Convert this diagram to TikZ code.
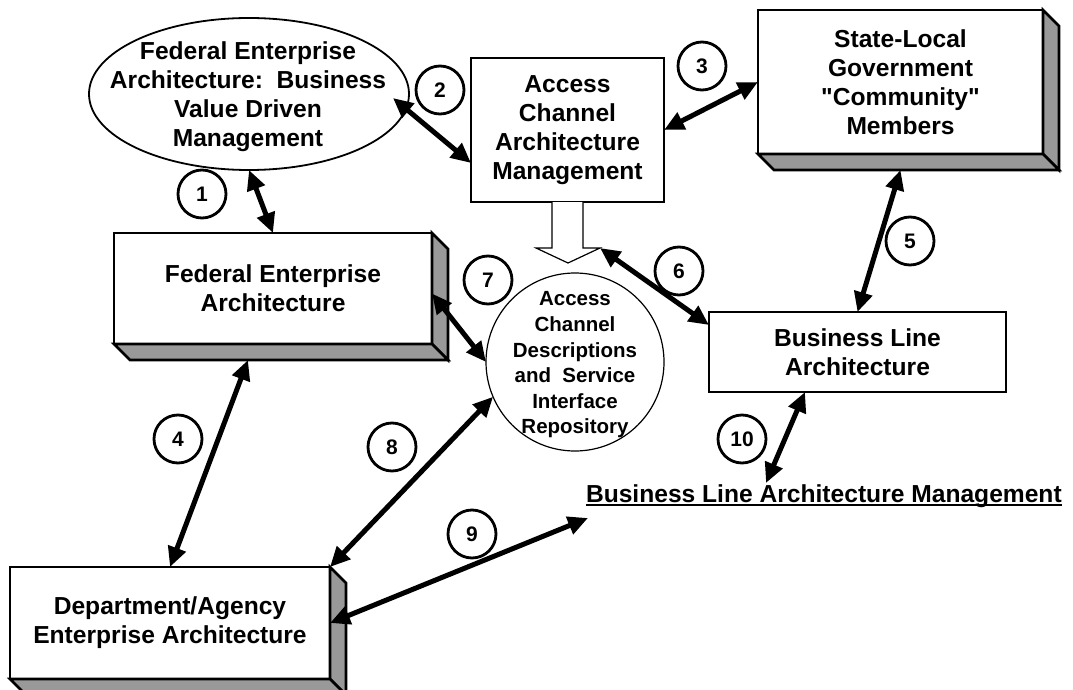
\documentclass[tikz,border=0pt]{standalone}
\usepackage{fontspec}
\setmainfont{Liberation Sans}[Ligatures=TeXOff]
\usetikzlibrary{positioning, shapes.geometric, arrows.meta, calc}

\begin{document}
\begin{tikzpicture}[
  x=1pt, y=-1pt,
  >={Triangle[length=20pt, width=18pt]},
  every node/.style={font=\fontsize{24.6}{29}\selectfont\bfseries, align=center, outer sep=0pt},
  slab/.style={draw, line width=2.6pt, fill=white, inner sep=0pt},
  slabside/.style={fill=black!40, draw, line width=2.6pt},
  oval/.style={draw, ellipse, line width=1.8pt, minimum width=320pt, minimum height=152pt, inner sep=0pt},
  store/.style={draw, circle, line width=1.2pt, minimum size=178pt, inner sep=0pt},
  num/.style={draw, circle, line width=2.8pt, minimum size=48pt, inner sep=0pt, font=\fontsize{21}{25}\selectfont\bfseries},
  link/.style={<->, line width=5pt}
]
\useasboundingbox (0,0) rectangle (1073,690);
% Boxes
\node[slab, minimum width=193pt, minimum height=144pt] (acam) at (567.5,130) {Access\\Channel\\Architecture\\Management};
\node[slab, minimum width=285pt, minimum height=144pt] (state) at (900.5,82) {State-Local\\Government\\"Community"\\Members};
\node[slab, minimum width=318pt, minimum height=111pt] (fea) at (273,288.5) {Federal Enterprise\\Architecture};
\node[slab, minimum width=320pt, minimum height=112pt] (dept) at (170,623) {Department/Agency\\Enterprise Architecture};
\node[slab, minimum width=297pt, minimum height=80pt] (bla) at (857.5,352) {Business Line\\Architecture};
% 3D sides of the raised boxes
\foreach \b in {state, fea, dept} {
  \filldraw[slabside] (\b.north east) -- ++(16,16) -- ($(\b.south east)+(16,16)$) -- (\b.south east) -- cycle;
  \filldraw[slabside] (\b.south west) -- ++(16,16) -- ($(\b.south east)+(16,16)$) -- (\b.south east) -- cycle;
}
% Oval and repository
\node[oval] (ell) at (249,94) {};
\node (elltext) at (248,96.5) {Federal Enterprise\\Architecture:\ \ Business\\Value Driven\\Management};
\node[store] (repo) at (575,362) {};
\node[font=\fontsize{20.5}{25.6}\selectfont\bfseries] (repotext) at (575,365) {Access\\Channel\\Descriptions\\and\ \ Service\\Interface\\Repository};
% Hollow arrow below the access channel box
\draw[line width=1.2pt, fill=white] ($(acam.south)+(-15.5,0)$) -- ++(0,46) -- ++(-16,0) -- ++(32,15) -- ++(32,-15) -- ++(-17,0) -- ++(0,-46);
\coordinate (wing) at ($(acam.south)+(32.5,46)$);
% Underlined label
\node[anchor=base west, inner sep=0pt] (blam) at (586,502) {Business Line Architecture Management};
\draw[line width=2pt] ($(blam.base west)+(0,2.5)$) -- ($(blam.base east)+(0,2.5)$);
% Numbered circles
\foreach \k/\x/\y in {1/202/194, 2/440/90, 3/702/66, 4/178/439, 5/910/241, 6/679/271, 7/488/280, 8/392/447, 9/472/534, 10/742/439}
  \node[num] (n\k) at (\x,\y) {\k};
% Links
\draw[link] (ell.south) -- (fea.north);
\draw[link] ($(ell.center)+(144,4)$) -- ($(acam.west)+(0,33)$);
\draw[link] (acam.east) -- (state.west);
\draw[link] ($(fea.south)+(-25,16)$) -- (dept.north);
\draw[link] ($(state.south)+(0,16)$) -- (bla.north);
\draw[link] (wing) -- ($(bla.north west)+(0,13)$);
\draw[link] ($(fea.east)+(0,5)$) -- (repo.west);
\draw[link] (repo.203.6) -- (dept.north east);
\draw[link] (dept.east) -- ($(blam.base west)+(2,16)$);
\draw[link] ($(bla.south)+(-52.5,0)$) -- ($(blam.base west)+(180,-19)$);
\end{tikzpicture}
\end{document}
